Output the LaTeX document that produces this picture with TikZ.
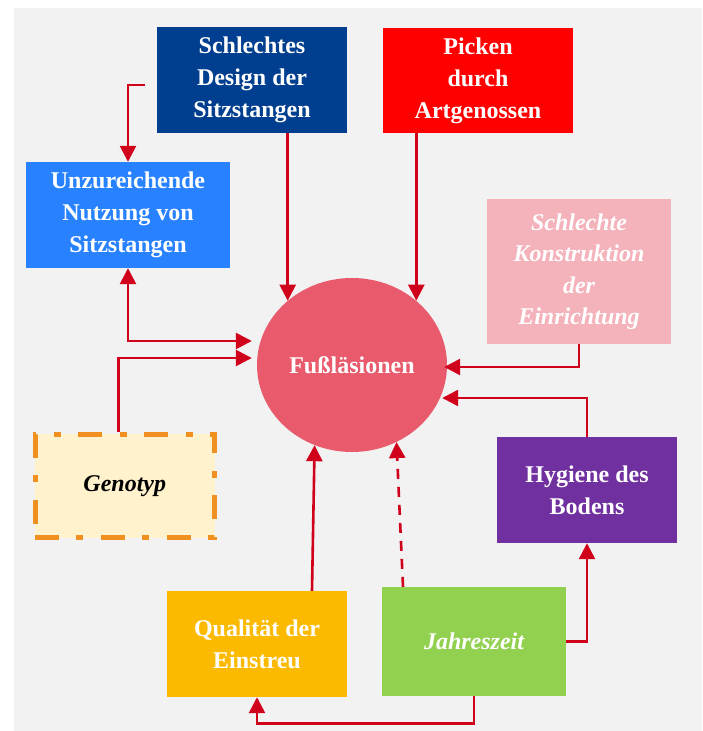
\documentclass[tikz,border=0pt]{standalone}
\usepackage{fontspec}
\setmainfont{Liberation Serif}
\usepackage{tikz}
\usetikzlibrary{arrows.meta}
\usetikzlibrary{shapes.geometric}
\definecolor{bggray}{RGB}{242,242,242}
\definecolor{arrred}{RGB}{208,2,27}
\definecolor{darkblue}{RGB}{0,63,143}
\definecolor{lightblue}{RGB}{40,130,255}
\definecolor{rosa}{RGB}{244,178,187}
\definecolor{lesion}{RGB}{232,90,108}
\definecolor{cream}{RGB}{255,242,204}
\definecolor{dashorange}{RGB}{240,144,32}
\definecolor{violet}{RGB}{112,48,160}
\definecolor{gold}{RGB}{251,186,0}
\definecolor{leaf}{RGB}{146,208,80}
\tikzset{
  box/.style={rectangle,inner sep=0pt,text=white,align=center,
    font=\fontsize{24}{32}\selectfont\bfseries},
  arr/.style={draw=arrred,line width=2.6pt,-{Triangle[length=16pt,width=16pt]}},
  arrboth/.style={draw=arrred,line width=2.6pt,
    {Triangle[length=16pt,width=16pt]}-{Triangle[length=16pt,width=16pt]}}
}

\begin{document}
\begin{tikzpicture}[x=1pt,y=-1pt]
      \useasboundingbox (0,0) rectangle (702,731);
      \fill[bggray] (14,8) rectangle (702,731); %background

      %boxes
      \node[box,fill=darkblue,minimum width=190pt,minimum height=106pt] (design) at (252,80)
        {Schlechtes\\Design der\\Sitzstangen};
      \node[box,fill=red,minimum width=190pt,minimum height=105pt] (picken) at (478,80.5)
        {Picken\\durch\\Artgenossen};
      \node[box,fill=lightblue,minimum width=204pt,minimum height=106pt] (nutzung) at (128,215)
        {Unzureichende\\Nutzung von\\Sitzstangen};
      \node[box,fill=rosa,minimum width=184pt,minimum height=145pt,font=\fontsize{24}{31.5}\selectfont\bfseries\itshape] (konstr) at (579,271.5)
        {Schlechte\\Konstruktion\\der\\Einrichtung};
      \node[box,ellipse,fill=lesion,minimum width=190pt,minimum height=174pt] (fuss) at (352,365)
        {Fußläsionen};
      \node[box,draw=dashorange,fill=cream,line width=5pt,dash pattern=on 24pt off 17pt on 7pt off 18pt,
        text=black,font=\fontsize{24}{32}\selectfont\bfseries\itshape,
        minimum width=179.5pt,minimum height=103.5pt] (genotyp) at (124.75,486) {Genotyp};
      \node[box,fill=violet,minimum width=180pt,minimum height=106pt] (hygiene) at (587,490)
        {Hygiene des\\Bodens};
      \node[box,fill=gold,minimum width=180pt,minimum height=106pt] (qual) at (257,644)
        {Qualität der\\Einstreu};
      \node[box,fill=leaf,minimum width=184pt,minimum height=109pt,font=\fontsize{24}{32}\selectfont\bfseries\itshape] (jahr) at (474,641.5)
        {Jahreszeit};

      %arrows
      \draw[arr] ([shift={(-12pt,-5pt)}]design.west) -| (nutzung.north);
      \draw[arr] (design.south -| fuss.135) -- (fuss.135);
      \draw[arr] (picken.south -| fuss.45) -- (fuss.45);
      \draw[arrboth] (nutzung.south) |- ([shift={(-5pt,24pt)}]fuss.west);
      \draw[arr] ([xshift=-6pt]genotyp.north) |- ([shift={(-5pt,7pt)}]fuss.west);
      \draw[arr] (konstr.south) |- ([shift={(-3pt,-2pt)}]fuss.east);
      \draw[arr] (hygiene.north) |- ([shift={(-5pt,-33pt)}]fuss.east);
      \draw[arr] ([xshift=55pt]qual.north) -- (fuss.245);
      \draw[arr,dash pattern=on 10pt off 8pt] ([xshift=-71pt]jahr.north) -- (fuss.300);
      \draw[arr] (jahr.east) -| (hygiene.south);
      \draw[arr] (jahr.south) |- ([yshift=-26pt]qual.south) -- (qual.south);
\end{tikzpicture}
\end{document}
